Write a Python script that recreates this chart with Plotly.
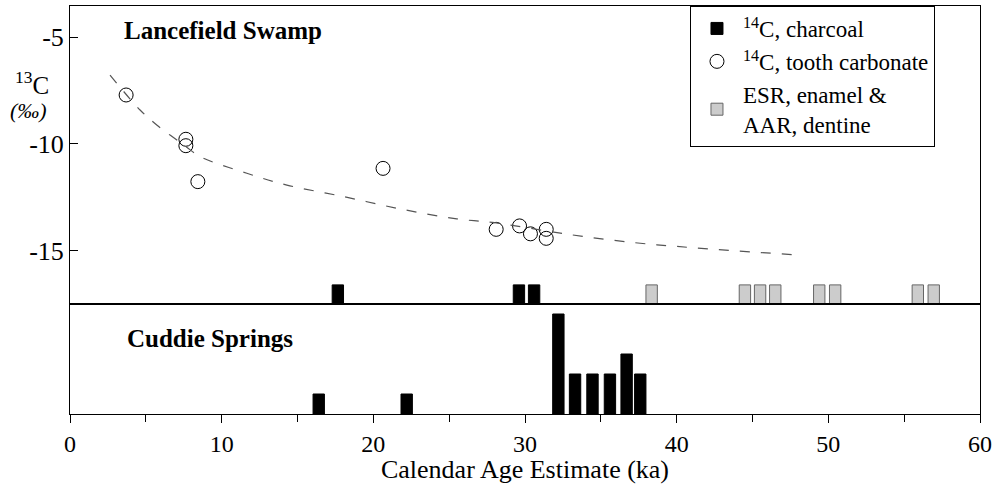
import plotly.graph_objects as go

# ---- data ----
# Lancefield Swamp: 14C tooth carbonate, age (ka) vs d13C (permil)
tooth_age = [3.7, 7.64, 7.64, 8.43, 20.64, 28.1, 29.64, 30.36, 31.4, 31.4]
tooth_d13c = [-7.71, -9.78, -10.08, -11.76, -11.14, -13.99, -13.83, -14.2, -13.99, -14.41]

# dashed trend line
trend_age = [2.64, 4.62, 5.72, 7.64, 8.58, 11.66, 14.3, 18.04, 21.8, 25.5, 28.0, 32.8, 37.2, 41.1, 47.96]
trend_d13c = [-6.78, -8.41, -9.11, -10.12, -10.59, -11.37, -11.92, -12.46, -13.04, -13.5, -13.68, -14.22, -14.61, -14.85, -15.19]

# Lancefield Swamp dates (one bar per date)
lf_charcoal_age = [17.66, 29.6, 30.6]
lf_charcoal_n = [1, 1, 1]
lf_esr_age = [38.35, 44.5, 45.5, 46.5, 49.4, 50.45, 55.9, 56.95]
lf_esr_n = [1, 1, 1, 1, 1, 1, 1, 1]

# Cuddie Springs 14C charcoal dates (count per bin)
cs_age = [16.4, 22.2, 32.2, 33.3, 34.45, 35.6, 36.7, 37.6]
cs_n = [1, 1, 5, 2, 2, 2, 3, 2]

x_ticks = [0, 10, 20, 30, 40, 50, 60]
y_ticks = [-5, -10, -15]

FONT = "Times New Roman, Liberation Serif, Tinos, DejaVu Serif, serif"
BW = 0.75
split = 0.2696

fig = go.Figure()

fig.add_trace(go.Bar(x=lf_charcoal_age, y=lf_charcoal_n, width=BW, xaxis="x", yaxis="y3",
                     marker=dict(color="black", line=dict(color="black", width=1)),
                     name="<sup>14</sup>C, charcoal", legendgroup="ch"))
fig.add_trace(go.Scatter(x=tooth_age, y=tooth_d13c, mode="markers", xaxis="x", yaxis="y",
                         marker=dict(symbol="circle-open", size=14, color="black", line=dict(width=1)),
                         name="<sup>14</sup>C, tooth carbonate"))
fig.add_trace(go.Bar(x=lf_esr_age, y=lf_esr_n, width=BW, xaxis="x", yaxis="y3",
                     marker=dict(color="#cccccc", line=dict(color="#666666", width=1)),
                     name="ESR, enamel &<br>AAR, dentine"))
fig.add_trace(go.Scatter(x=trend_age, y=trend_d13c, mode="lines", xaxis="x", yaxis="y",
                         line=dict(color="#555555", width=1.2, dash="10px,11px", shape="spline", smoothing=1),
                         showlegend=False, hoverinfo="skip"))
fig.add_trace(go.Bar(x=cs_age, y=cs_n, width=BW, xaxis="x2", yaxis="y2",
                     marker=dict(color="black", line=dict(color="black", width=1)),
                     showlegend=False, legendgroup="ch"))

axis_common = dict(showline=True, linecolor="black", linewidth=1, mirror=True,
                   showgrid=False, zeroline=False)

fig.update_layout(
    width=997, height=484,
    margin=dict(l=70, r=17, t=6, b=70),
    paper_bgcolor="white", plot_bgcolor="white",
    barmode="overlay",
    font=dict(family=FONT, size=24, color="black"),
    xaxis=dict(domain=[0, 1], anchor="y", range=[0, 60], showticklabels=False, ticks="",
               matches="x2", **axis_common),
    xaxis2=dict(domain=[0, 1], anchor="y2", range=[0, 60], tickvals=x_ticks,
                ticks="outside", ticklen=8, tickcolor="black",
                minor=dict(dtick=5, tick0=0, ticks="outside", ticklen=7, tickcolor="black"),
                tickfont=dict(family=FONT, size=24),
                title=dict(text="Calendar Age Estimate (ka)", font=dict(family=FONT, size=26), standoff=9),
                automargin=False,
                **axis_common),
    yaxis=dict(domain=[split, 1], anchor="x", range=[-17.48, -3.55], tickvals=y_ticks,
               ticktext=[str(v) for v in y_ticks],
               ticks="inside", ticklen=8, tickcolor="black", automargin=False,
               tickfont=dict(family=FONT, size=26), **axis_common),
    yaxis2=dict(domain=[0, split], anchor="x2", range=[0, 5.5], showticklabels=False, ticks="",
                **axis_common),
    yaxis3=dict(overlaying="y", anchor="x", range=[0, 15.6], visible=False),
    legend=dict(x=0.6813, xanchor="left", y=1, yanchor="top",
                bgcolor="white", bordercolor="black", borderwidth=1,
                font=dict(family=FONT, size=23), tracegroupgap=0, itemwidth=42,
                entrywidth=240, entrywidthmode="pixels",
                traceorder="normal"),
    showlegend=True,
)

fig.add_annotation(text="<b>Lancefield Swamp</b>", xref="paper", yref="paper",
                   x=(122 - 70) / 910, y=1 - (30 - 6) / 408, xanchor="left", yanchor="middle",
                   showarrow=False, font=dict(family=FONT, size=25))
fig.add_annotation(text="<b>Cuddie Springs</b>", xref="paper", yref="paper",
                   x=(125 - 70) / 910, y=1 - (338 - 6) / 408, xanchor="left", yanchor="middle",
                   showarrow=False, font=dict(family=FONT, size=25))
fig.add_annotation(text="<sup>13</sup>C", xref="paper", yref="paper",
                   x=(32 - 70) / 910, y=1 - (83 - 6) / 408, xanchor="center", yanchor="middle",
                   showarrow=False, font=dict(family=FONT, size=25))
fig.add_annotation(text="<i>(‰)</i>", xref="paper", yref="paper",
                   x=(28 - 70) / 910, y=1 - (111 - 6) / 408, xanchor="center", yanchor="middle",
                   showarrow=False, font=dict(family=FONT, size=22))

fig.write_html("out.html", config={"displayModeBar": False},
               post_script="document.body.style.margin='0';")
